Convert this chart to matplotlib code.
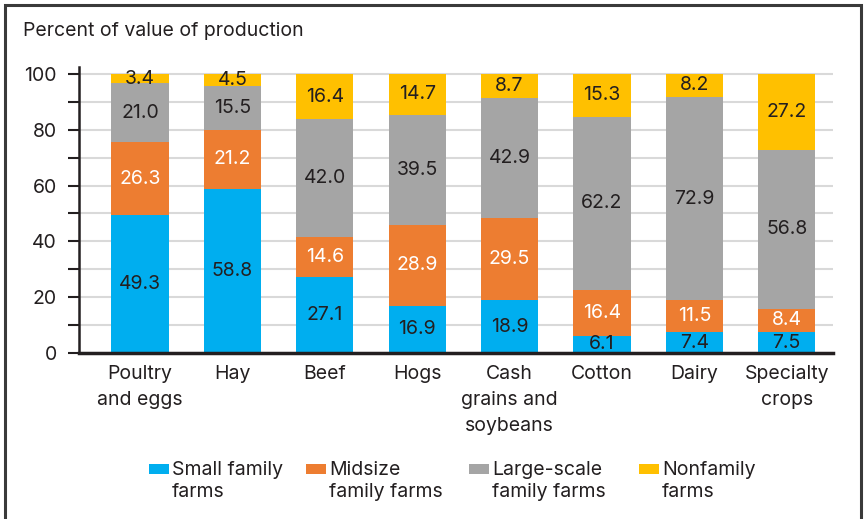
import matplotlib.pyplot as plt
from matplotlib.patches import Rectangle
import numpy as np

plt.rcParams['font.family'] = ['Inter', 'DejaVu Sans']

categories = ["Poultry\nand eggs", "Hay", "Beef", "Hogs", "Cash\ngrains and\nsoybeans",
              "Cotton", "Dairy", "Specialty\ncrops"]
small = [49.3, 58.8, 27.1, 16.9, 18.9, 6.1, 7.4, 7.5]
midsize = [26.3, 21.2, 14.6, 28.9, 29.5, 16.4, 11.5, 8.4]
large = [21.0, 15.5, 42.0, 39.5, 42.9, 62.2, 72.9, 56.8]
nonfamily = [3.4, 4.5, 16.4, 14.7, 8.7, 15.3, 8.2, 27.2]

series = [
    ("Small family\nfarms", small, "#00AEEF", "#231F20"),
    ("Midsize\nfamily farms", midsize, "#ED7D31", "white"),
    ("Large-scale\nfamily farms", large, "#A5A5A5", "#231F20"),
    ("Nonfamily\nfarms", nonfamily, "#FFC000", "#231F20"),
]

fs = 14

fig = plt.figure(figsize=(8.66, 5.19), dpi=100)
ax = fig.add_axes([0.0912, 0.3199, 0.8706, 0.5511])

x = np.arange(len(categories))
bottom = np.zeros(len(categories))
for name, vals, color, tcolor in series:
    vals = np.array(vals)
    ax.bar(x, vals, 0.62, bottom=bottom, color=color, label=name, zorder=2)
    for xi, b, v in zip(x, bottom, vals):
        ax.text(xi, min(b + v / 2, 100 - v / 2 + 0.2), f"{v:.1f}", ha="center", va="center",
                fontsize=fs, color=tcolor, zorder=3)
    bottom += vals

ax.set_xlim(-0.66, 7.5)
ax.set_ylim(0, 102.5)
ax.set_yticks(np.arange(0, 101, 20))
ax.set_yticks(np.arange(10, 100, 20), minor=True)
ax.yaxis.grid(True, which="both", color="#D9D9D9", linewidth=1.5, zorder=0)
ax.set_axisbelow(True)
ax.tick_params(axis="y", which="both", length=8, width=1.5, color="#231F20",
               labelsize=fs, labelcolor="#231F20", pad=8)
ax.tick_params(axis="x", length=0, labelsize=fs, labelcolor="#231F20", pad=9)
ax.set_xticks(x)
ax.set_xticklabels(categories, linespacing=1.55, va="top")
for s in ["top", "right"]:
    ax.spines[s].set_visible(False)
ax.spines["left"].set_linewidth(1.8)
ax.spines["left"].set_color("#231F20")
ax.spines["bottom"].set_linewidth(2.5)
ax.spines["bottom"].set_color("#231F20")

fig.text(0.027, 0.94, "Percent of value of production", fontsize=fs, color="#231F20",
         va="center")

# legend: swatch beside the first line of each two-line label
legend_x = [0.172, 0.3533, 0.5416, 0.7379]
for lx, (name, _, color, _) in zip(legend_x, series):
    fig.patches.append(Rectangle((lx, 0.087), 0.0231, 0.0193, transform=fig.transFigure,
                                 facecolor=color, edgecolor="none"))
    fig.text(lx + 0.0266, 0.0732, name, fontsize=fs, color="#231F20", va="center",
             ha="left", linespacing=1.25)

fig.patches.append(Rectangle((0.006, -0.1), 0.988, 1.09, transform=fig.transFigure,
                             fill=False, edgecolor="#3A3A3A", linewidth=2.2))

fig.savefig("out.png", dpi=100)
